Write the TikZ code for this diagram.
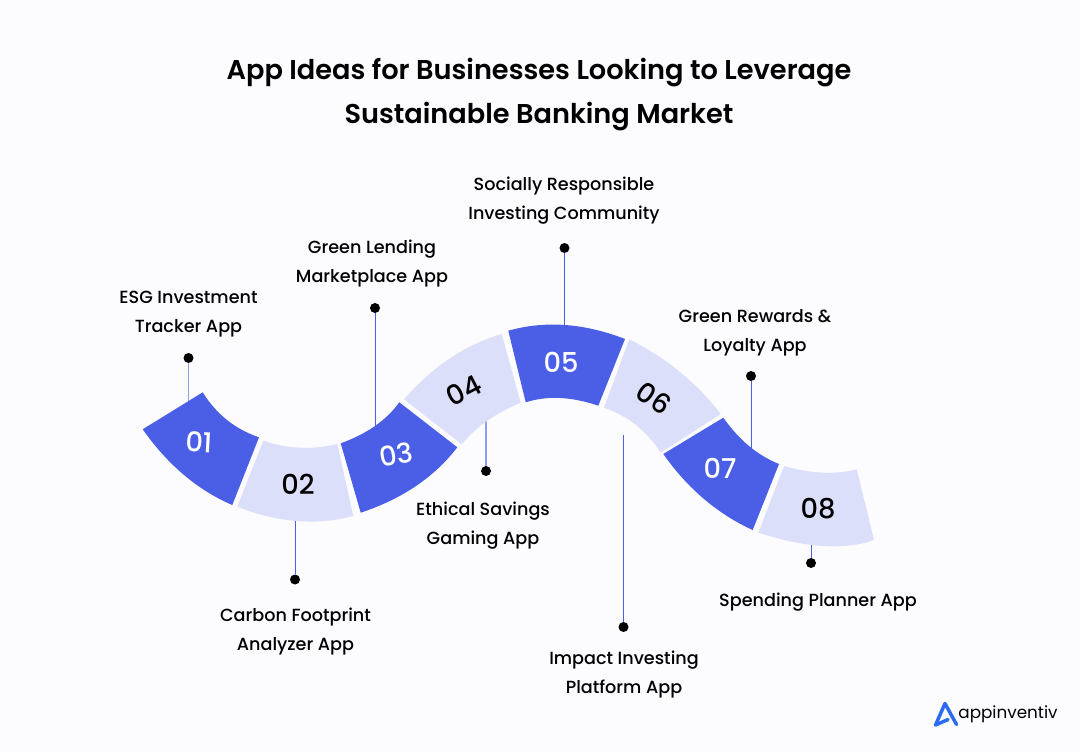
\documentclass[tikz,border=0pt]{standalone}
\usepackage{fontspec}
\setmainfont{Poppins}
\newfontfamily\medfont{Poppins Medium}
\newfontfamily\semifont{Poppins SemiBold}
\usetikzlibrary{calc}
\definecolor{bgc}{HTML}{FCFCFF}
\definecolor{deep}{HTML}{4A5FE5}
\definecolor{pale}{HTML}{DCDFFA}
\definecolor{logoblue}{HTML}{2B6BF3}
\definecolor{softline}{HTML}{8F9CEE}
\tikzset{
  deepseg/.style={fill=deep,draw=none},
  paleseg/.style={fill=pale,draw=none},
  titletext/.style={font=\fontsize{20.4}{33}\selectfont\semifont,text=black,align=center},
  labeltext/.style={font=\fontsize{13.2}{21.75}\selectfont\medfont,text=black,align=center},
  numwhite/.style={font=\fontsize{20.5}{22}\selectfont\medfont,text=white},
  numblack/.style={font=\fontsize{20.5}{22}\selectfont\medfont,text=black},
  pin/.style={circle,fill=black,draw=none,inner sep=0pt,minimum size=7.5pt},
  stem/.style={draw=deep,line width=0.75pt},
  softstem/.style={draw=softline,line width=0.9pt},
}
% style; A; top mid; B; C; bottom mid; D  (A-B top edge, C-D bottom edge)
\newcommand{\segm}[7]{%
  \fill[#1] #2 .. controls ($1.3333*#3-0.3333*#4$) and ($1.3333*#3-0.3333*#2$) .. #4
   -- #5 .. controls ($1.3333*#6-0.3333*#7$) and ($1.3333*#6-0.3333*#5$) .. #7 -- cycle;}
\begin{document}
\begin{tikzpicture}[x=0.75pt,y=-0.75pt]
\useasboundingbox (0,0) rectangle (1080,752);
\fill[bgc] (0,0) rectangle (1080,752);

\node[titletext] (title) at (539,95) {App Ideas for Businesses Looking to Leverage\\Sustainable Banking Market};

% pins and stem ends
\node[pin] (p1) at (188.5,358) {};
\node[pin] (p2) at (295,579.5) {};
\node[pin] (p3) at (375,308) {};
\node[pin] (p4) at (486,471) {};
\node[pin] (p5) at (564.5,248) {};
\node[pin] (p6) at (623.5,627) {};
\node[pin] (p7) at (751,376) {};
\node[pin] (p8) at (811,563) {};
\coordinate (e1) at (188.5,404);
\coordinate (e2) at (295,518);
\coordinate (e3) at (375,428);
\coordinate (e4) at (486,420);
\coordinate (e5) at (564.5,328);
\coordinate (e6) at (623.5,435);
\coordinate (e7) at (751,448);
\coordinate (e8) at (811,544);
\draw[softstem] (p1) -- (e1);
\draw[stem] (p2) -- (e2);
\draw[stem] (p3) -- (e3);
\draw[softstem] (p4) -- (e4);
\draw[stem] (p5) -- (e5);
\draw[stem] (p6) -- (e6);
\draw[stem] (p7) -- (e7);
\draw[stem] (p8) -- (e8);

% ribbon
\segm{deepseg}{(202.7,392.3)}{(227,420)}{(259,437.3)}{(232.3,505)}{(184,475)}{(142.7,429.3)}
\segm{paleseg}{(263.3,440.7)}{(300,447.7)}{(337.3,444)}{(353.3,516)}{(296.7,521)}{(237.3,506.7)}
\segm{deepseg}{(340.7,443.3)}{(375,426)}{(399.3,402.3)}{(457.3,447.3)}{(416,486)}{(360.7,512.7)}
\segm{paleseg}{(404,399.3)}{(450,358.3)}{(501.7,334)}{(520.7,402.7)}{(487,421)}{(461.7,444.3)}
\segm{deepseg}{(508.3,330.7)}{(565,325)}{(625,339)}{(598.3,405.7)}{(560,398)}{(525.7,402.3)}
\segm{paleseg}{(629.3,339.3)}{(680,372)}{(720.7,414)}{(660.7,452.7)}{(636,425)}{(604,407.7)}
\segm{deepseg}{(723.3,417.7)}{(749,446)}{(779,464)}{(752.7,530)}{(704,499)}{(663.3,454)}
\segm{paleseg}{(784,466)}{(823,472.7)}{(856.7,469.3)}{(874,540)}{(823,546)}{(758.3,532.7)}

% numbers
\node[numwhite,rotate=-3] (n1) at (199.5,442) {01};
\node[numblack] (n2) at (298,484) {02};
\node[numwhite,rotate=10] (n3) at (396,455) {03};
\node[numblack,rotate=27] (n4) at (464,390) {04};
\node[numwhite] (n5) at (561,362) {05};
\node[numblack,rotate=-35] (n6) at (654,398) {06};
\node[numwhite] (n7) at (720,468) {07};
\node[numblack] (n8) at (818,509) {08};

% labels
\node[labeltext] (l1) at (188.5,314.5) {ESG Investment\\Tracker App};
\node[labeltext] (l2) at (295.5,632) {Carbon Footprint\\Analyzer App};
\node[labeltext] (l3) at (372,263.5) {Green Lending\\Marketplace App};
\node[labeltext] (l4) at (483,526) {Ethical Savings\\Gaming App};
\node[labeltext] (l5) at (564,201) {Socially Responsible\\Investing Community};
\node[labeltext] (l6) at (755,333) {Green Rewards \&\\Loyalty App};
\node[labeltext] (l7) at (624,675) {Impact Investing\\Platform App};
\node[labeltext] (l8) at (818,602) {Spending Planner App};

% logo
\draw[logoblue,line width=2.6pt,line join=round,line cap=round] (956.5,724.5) -- (945,703.5) -- (935.5,725) -- (948,719.5);
\node[font=\fontsize{12.6}{18}\selectfont,text=black] (logo) at (1008,714) {appinventiv};
\end{tikzpicture}
\end{document}
